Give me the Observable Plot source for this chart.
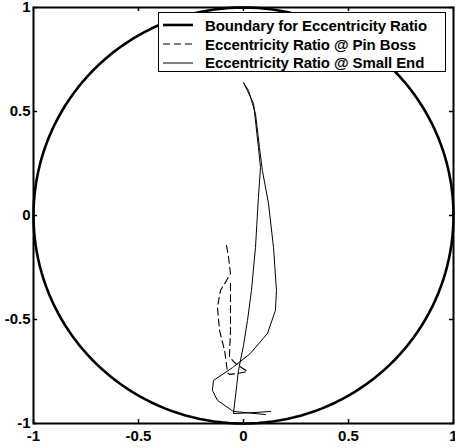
<!DOCTYPE html>
<html><head><meta charset="utf-8">
<script src="https://cdn.jsdelivr.net/npm/d3@7"></script>
<script src="https://cdn.jsdelivr.net/npm/@observablehq/plot@0.6"></script>
<style>
body{margin:0;background:#fff;}
#wrap{position:relative;width:455px;height:448px;font-family:"Liberation Sans",Arial,sans-serif;}
#wrap svg text{font-weight:bold;}
#legend{position:absolute;left:158px;top:12px;width:288px;height:60px;border:1px solid #000;background:#fff;box-sizing:border-box;padding-top:3px;}
.row{display:flex;align-items:center;height:18.7px;font-weight:bold;font-size:15px;color:#000;white-space:nowrap;letter-spacing:-0.1px;}
.row svg{margin-left:4px;margin-right:12px;}
</style>
</head><body><div id="wrap"></div>
<script>
// ---- data ----
const xTicks = [-1, -0.5, 0, 0.5, 1];
const yTicks = [-1, -0.5, 0, 0.5, 1];
const tickLabels = ["-1", "-0.5", "0", "0.5", "1"];
const seriesNames = ["Boundary for Eccentricity Ratio", "Eccentricity Ratio @ Pin Boss", "Eccentricity Ratio @ Small End"];
const boundaryRadius = 1;

const smallEndX = [0.129, 0.060, -0.048, -0.036, -0.024, 0.000, 0.019, 0.038, 0.057, 0.071, 0.081, 0.071, 0.048, 0.000, 0.024, 0.057, 0.076, 0.090, 0.119, 0.143, 0.157, 0.152, 0.114, 0.033, -0.052, -0.143, -0.148, -0.124, -0.048, 0.105];
const smallEndY = [-0.942, -0.947, -0.952, -0.850, -0.745, -0.625, -0.505, -0.360, -0.154, 0.087, 0.231, 0.327, 0.538, 0.639, 0.601, 0.490, 0.327, 0.216, 0.058, -0.154, -0.360, -0.457, -0.567, -0.663, -0.731, -0.793, -0.841, -0.889, -0.942, -0.957];

const pinBossX = [-0.081, -0.071, -0.062, -0.081, -0.110, -0.124, -0.114, -0.090, -0.076, -0.067, -0.033, 0.019, -0.010, -0.043, -0.067, -0.062, -0.062, -0.062];
const pinBossY = [-0.144, -0.202, -0.279, -0.313, -0.361, -0.442, -0.553, -0.649, -0.755, -0.764, -0.760, -0.750, -0.731, -0.707, -0.678, -0.553, -0.409, -0.313];

// ---- tables ----
const boundary = d3.range(0, 361, 2).map(a => ({
  x: boundaryRadius * Math.cos(a * Math.PI / 180),
  y: boundaryRadius * Math.sin(a * Math.PI / 180)
}));
const smallEnd = smallEndX.map((x, i) => ({x, y: smallEndY[i]}));
const pinBoss = pinBossX.map((x, i) => ({x, y: pinBossY[i]}));

const W = 455, H = 448, mL = 33, mR = 2, mT = 7, mB = 25;
const innerW = W - mL - mR, innerH = H - mT - mB;
const tk = 4;

const chart = Plot.plot({
  width: W, height: H,
  marginLeft: mL, marginRight: mR, marginTop: mT, marginBottom: mB,
  style: {fontFamily: '"Liberation Sans", Arial, sans-serif', background: "#fff", fontSize: "15px"},
  x: {domain: [-1, 1], label: null},
  y: {domain: [-1, 1], label: null},
  marks: [
    Plot.line(boundary, {x: "x", y: "y", stroke: "#000", strokeWidth: 2.6}),
    Plot.line(pinBoss, {x: "x", y: "y", stroke: "#000", strokeWidth: 1.1, strokeDasharray: "7,4"}),
    Plot.line(smallEnd, {x: "x", y: "y", stroke: "#000", strokeWidth: 1}),
    Plot.tickX(xTicks, {x: d => d, insetTop: innerH - tk, stroke: "#000", strokeWidth: 1.5}),
    Plot.tickX(xTicks, {x: d => d, insetBottom: innerH - tk, stroke: "#000", strokeWidth: 1.5}),
    Plot.tickY(yTicks, {y: d => d, insetRight: innerW - tk, stroke: "#000", strokeWidth: 1.5}),
    Plot.tickY(yTicks, {y: d => d, insetLeft: innerW - tk, stroke: "#000", strokeWidth: 1.5}),
    Plot.frame({stroke: "#000", strokeWidth: 2}),
    Plot.axisX(xTicks, {anchor: "bottom", label: null, tickSize: 0, tickPadding: 7, tickFormat: d => tickLabels[xTicks.indexOf(d)], fontSize: 15, fill: "#000"}),
    Plot.axisY(yTicks, {anchor: "left", label: null, tickSize: 0, tickPadding: 3, tickFormat: d => tickLabels[yTicks.indexOf(d)], fontSize: 15, fill: "#000"})
  ]
});

const wrap = document.getElementById("wrap");
wrap.appendChild(chart);

const legend = document.createElement("div");
legend.id = "legend";
const styles = [{w: 2.6, dash: null}, {w: 1.1, dash: "7,4"}, {w: 1, dash: null}];
seriesNames.forEach((name, i) => {
  const row = document.createElement("div");
  row.className = "row";
  const s = styles[i];
  row.innerHTML = `<svg width="30" height="10"><line x1="0" x2="30" y1="5" y2="5" stroke="#000" stroke-width="${s.w}" ${s.dash ? `stroke-dasharray="${s.dash}"` : ""}/></svg><span>${name}</span>`;
  legend.appendChild(row);
});
wrap.appendChild(legend);
</script>
</body></html>
